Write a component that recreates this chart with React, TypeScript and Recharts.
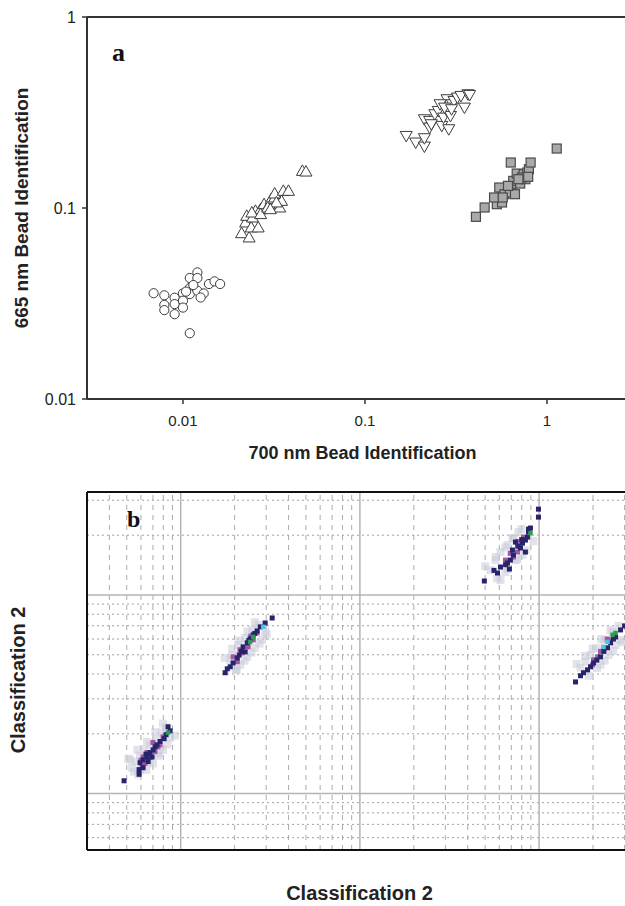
import { ScatterChart, Scatter, XAxis, YAxis, ReferenceLine } from "recharts";

type Pt = [number, number];

// (a) 700 nm vs 665 nm bead identification – four bead sets
const BEAD_CIRCLES: Pt[] = [
  [0.0069, 0.0358], [0.0079, 0.0349], [0.0079, 0.0311], [0.0079, 0.0292], [0.009, 0.0339],
  [0.009, 0.0314], [0.009, 0.0278], [0.01, 0.0357], [0.01, 0.0327], [0.01, 0.0301],
  [0.0109, 0.043], [0.0109, 0.0381], [0.0109, 0.0354], [0.0109, 0.0221], [0.012, 0.046],
  [0.012, 0.043], [0.012, 0.0369], [0.013, 0.0357], [0.0139, 0.04], [0.0149, 0.0413],
  [0.016, 0.04], [0.0104, 0.0365], [0.0114, 0.0395], [0.0125, 0.034],
];
const BEAD_UP: Pt[] = [
  [0.021, 0.0738], [0.0231, 0.0701], [0.0221, 0.084], [0.0237, 0.0791], [0.0259, 0.0791],
  [0.0224, 0.091], [0.0241, 0.0892], [0.025, 0.0966], [0.0267, 0.0986], [0.0279, 0.1047],
  [0.0298, 0.1047], [0.0305, 0.1112], [0.0319, 0.1135], [0.034, 0.1006], [0.0348, 0.109],
  [0.0319, 0.1191], [0.0356, 0.123], [0.038, 0.123], [0.0453, 0.1564], [0.0474, 0.1552],
  [0.0239, 0.0947], [0.0267, 0.0929], [0.0292, 0.1006], [0.0326, 0.1069], [0.0302, 0.0986],
];
const BEAD_DOWN: Pt[] = [
  [0.1685, 0.2384], [0.1899, 0.2202], [0.212, 0.2098], [0.212, 0.2319], [0.212, 0.2915],
  [0.2265, 0.2637], [0.2265, 0.2858], [0.2419, 0.3097], [0.2529, 0.3223], [0.2642, 0.2691],
  [0.2701, 0.2974], [0.2823, 0.3223], [0.2886, 0.2585], [0.2823, 0.371], [0.295, 0.3034],
  [0.3016, 0.3493], [0.3083, 0.3636], [0.3222, 0.3785], [0.3367, 0.3862], [0.3519, 0.3354],
  [0.3677, 0.394], [0.3759, 0.3908], [0.2315, 0.2745], [0.2585, 0.3493], [0.2737, 0.3354],
  [0.2989, 0.3289],
];
const BEAD_SQUARES: Pt[] = [
  [0.407, 0.0899], [0.4543, 0.1006], [0.5302, 0.1047], [0.5662, 0.1069], [0.5119, 0.1135],
  [0.5467, 0.128], [0.5839, 0.1181], [0.638, 0.128], [0.6241, 0.1205], [0.6668, 0.1181],
  [0.6522, 0.1387], [0.6815, 0.1515], [0.7122, 0.1343], [0.7443, 0.1503], [0.7608, 0.1415],
  [0.7778, 0.1533], [0.7952, 0.1596], [0.8128, 0.173], [0.6324, 0.173], [1.131, 0.2048],
  [0.5713, 0.1135], [0.6104, 0.1306], [0.728, 0.1444], [0.7882, 0.1456], [0.6966, 0.1415],
];
const A_TICKS = [0.01, 0.1, 1];

// (b) classification density plot – cells by colour level
const B_HALO: Pt[] = [
  [5.35, 135], [5.63, 145], [5.49, 129], [5.93, 155], [6.25, 166], [6.75, 176], [7.29, 187],
  [7.87, 203], [8.29, 215], [5.78, 125], [7.01, 142], [7.47, 155], [6.41, 132], [5.21, 148],
  [8.73, 191], [7.97, 166], [5.1, 150], [5.94, 131], [5.74, 166], [6.7, 145], [6.48, 182],
  [7.56, 159], [7.22, 204], [8.42, 177], [7.96, 225], [9.29, 196],
  [19.4, 499], [20.9, 561], [22.9, 608], [25.1, 667], [27.1, 707], [21.5, 445], [23.5, 488],
  [26.0, 542], [28.5, 594], [18.9, 471], [20.4, 420], [29.6, 652], [17.6, 482], [19.4, 536],
  [21.3, 590], [23.6, 654], [25.9, 729], [20.5, 420], [22.7, 467], [24.8, 513], [27.5, 569],
  [30.2, 634],
  [571, 1499], [609, 1645], [666, 1783], [710, 1934], [767, 2073], [535, 1335], [649, 1305],
  [738, 1499], [808, 1589], [609, 1190], [500, 1394], [574, 1554], [648, 1737], [722, 1930],
  [796, 2144], [583, 1213], [670, 1353], [756, 1511], [842, 1679], [929, 1866],
  [1937, 499], [2120, 542], [2319, 594], [2571, 652], [2777, 699], [1816, 461], [2203, 445],
  [2441, 499], [2672, 561], [2849, 594], [1703, 430], [1620, 450], [1806, 493], [1991, 536],
  [2222, 600], [2500, 665], [1890, 392], [2106, 429], [2322, 467], [2592, 522], [2916, 578],
];
const B_MAGENTA: Pt[] = [
  [7.97, 193], [7.67, 176], [7.47, 172], [7.19, 163], [6.75, 152], [6.49, 161], [6.17, 153],
  [6.33, 142], [6.09, 137], [7.0, 181], [6.0, 147],
  [26.7, 644], [23.8, 548], [22.0, 511], [20.7, 461], [19.6, 488], [25.4, 594], [24.6, 620],
  [21.4, 530],
  [818, 1956], [787, 1743], [757, 1645], [719, 1552], [649, 1499], [690, 1620], [760, 1860],
  [2120, 488], [2289, 529], [1988, 445], [2014, 471], [2505, 594], [2200, 520], [2400, 600],
];
const B_NAVY: Pt[] = [
  [8.5, 217], [8.73, 207], [8.29, 198], [8.08, 189], [7.67, 183], [7.38, 176], [7.01, 166],
  [6.75, 161], [6.49, 153], [6.92, 153], [6.17, 148], [6.58, 145], [5.93, 143], [6.17, 135],
  [5.86, 132], [5.86, 125], [4.83, 116], [7.2, 172], [6.4, 158],
  [32.4, 766], [29.6, 723], [27.8, 691], [26.7, 659], [25.4, 630], [24.4, 601], [23.5, 574],
  [22.3, 548], [22.9, 517], [21.2, 499], [20.7, 482], [19.6, 455], [18.9, 435], [18.2, 425],
  [17.7, 406], [25.9, 640], [24.0, 590], [21.8, 520],
  [992, 2705], [992, 2466], [895, 2172], [873, 2073], [861, 1956], [839, 1890], [808, 1825],
  [787, 1723], [738, 1846], [710, 1684], [719, 1589], [692, 1499], [666, 1448], [683, 1351],
  [609, 1383], [586, 1290], [495, 1176], [839, 1645], [873, 2146], [760, 1760], [800, 1900],
  [650, 1420], [560, 1330],
  [3000, 699], [2849, 667], [2672, 615], [2505, 574], [2410, 542], [2203, 488], [2014, 455],
  [1937, 435], [1864, 420], [1770, 406], [1597, 365], [1703, 392], [2300, 520], [2600, 600],
  [2100, 470],
];
const B_GREEN: Pt[] = [[8.5, 203], [24.4, 580], [25.4, 615], [895, 2049], [2571, 630], [2672, 644]];
const B_CYAN: Pt[] = [[28.9, 691], [2289, 548], [2410, 580]];

// log grid of panel b
const B_MAJOR_X = [10, 100, 1000];
const B_MINOR_X = [4, 5, 6, 7, 8, 9, 20, 30, 40, 50, 60, 70, 80, 90, 200, 300, 400, 500, 600, 700, 800, 900, 2000, 3000];
const B_MAJOR_Y = [100, 1000];
const B_MINOR_Y = [60, 70, 80, 90, 200, 300, 400, 500, 600, 700, 800, 900, 2000, 3000];

const rows = (pts: Pt[]) => pts.map(([x, y]) => ({ x, y }));

const openCircle = (p: any) => (
  <circle cx={p.cx} cy={p.cy} r={4.6} fill="#fff" stroke="#3c3c3c" strokeWidth={1} />
);
const upTriangle = (p: any) => (
  <path d={`M${p.cx},${p.cy - 6}L${p.cx + 6},${p.cy + 4.5}L${p.cx - 6},${p.cy + 4.5}Z`} fill="#fff" stroke="#3c3c3c" strokeWidth={1} />
);
const downTriangle = (p: any) => (
  <path d={`M${p.cx - 6},${p.cy - 4.5}L${p.cx + 6},${p.cy - 4.5}L${p.cx},${p.cy + 6}Z`} fill="#fff" stroke="#3c3c3c" strokeWidth={1} />
);
const graySquare = (p: any) => (
  <rect x={p.cx - 4.5} y={p.cy - 4.5} width={9} height={9} fill="#a9a9a9" stroke="#4a4a4a" strokeWidth={1.2} />
);
const cell = (size: number, fill: string, opacity = 1) => (p: any) => (
  <rect x={p.cx - size / 2} y={p.cy - size / 2} width={size} height={size} fill={fill} fillOpacity={opacity} />
);

const titleStyle = { fontWeight: 700, fill: "#222" };

// rotated y title of panel b, sitting a little below the plot's middle
const bYTitle = (props: any) => {
  const vb = props.viewBox || {};
  const x = (vb.x || 0) + 18;
  const y = (vb.y || 0) + (vb.height || 0) / 2 + 9;
  return (
    <text x={x} y={y} transform={`rotate(-90, ${x}, ${y})`} textAnchor="middle" dominantBaseline="central"
      style={{ ...titleStyle, fontSize: 20 }}>
      Classification 2
    </text>
  );
};

export default function App() {
  return (
    <div style={{ position: "fixed", left: 0, top: 0, width: 625, height: 906, overflow: "hidden", background: "#fff", fontFamily: "'Liberation Sans', Arial, sans-serif" }}>
      <div style={{ position: "absolute", left: 0, top: 0 }}>
        <ScatterChart width={638} height={470} margin={{ top: 17, right: 0, bottom: 0, left: 0 }}>
          <XAxis
            type="number" dataKey="x" scale="log" domain={[0.00297, 3.162]} allowDataOverflow
            ticks={A_TICKS} tickFormatter={(v) => String(v)} height={71} tickSize={5} tickMargin={11}
            axisLine={{ stroke: "#333", strokeWidth: 2 }} tickLine={{ stroke: "#333", strokeWidth: 1.5 }}
            tick={{ fill: "#222", fontSize: 15 }}
            label={{ value: "700 nm Bead Identification", position: "insideBottom", offset: 11, style: { ...titleStyle, fontSize: 18 } }}
          />
          <YAxis
            type="number" dataKey="y" scale="log" domain={[0.01, 1]} allowDataOverflow
            ticks={A_TICKS} tickFormatter={(v) => String(v)} width={87} tickSize={5} tickMargin={6}
            axisLine={{ stroke: "#333", strokeWidth: 2 }} tickLine={{ stroke: "#333", strokeWidth: 1.5 }}
            tick={{ fill: "#222", fontSize: 16 }}
            label={{ value: "665 nm Bead Identification", angle: -90, position: "insideLeft", offset: 21, style: { ...titleStyle, fontSize: 19, textAnchor: "middle" } }}
          />
          <ReferenceLine y={1} stroke="#333" strokeWidth={2} />
          <Scatter data={rows(BEAD_CIRCLES)} shape={openCircle} isAnimationActive={false} />
          <Scatter data={rows(BEAD_UP)} shape={upTriangle} isAnimationActive={false} />
          <Scatter data={rows(BEAD_DOWN)} shape={downTriangle} isAnimationActive={false} />
          <Scatter data={rows(BEAD_SQUARES)} shape={graySquare} isAnimationActive={false} />
        </ScatterChart>
      </div>
      <div style={{ position: "absolute", left: 112, top: 40, fontFamily: "'Liberation Serif', serif", fontWeight: 700, fontSize: 26, lineHeight: "26px", color: "#111" }}>a</div>

      <div style={{ position: "absolute", left: 0, top: 470 }}>
        <ScatterChart width={632} height={436} margin={{ top: 22, right: 0, bottom: 0, left: 0 }}>
          <XAxis
            type="number" dataKey="x" scale="log" domain={[3, 3300]} allowDataOverflow
            tick={false} tickLine={false} height={56}
            axisLine={{ stroke: "#111", strokeWidth: 2 }}
            label={{ value: "Classification 2", position: "insideBottom", offset: 6, style: { ...titleStyle, fontSize: 20 } }}
          />
          <YAxis
            type="number" dataKey="y" scale="log" domain={[52, 3300]} allowDataOverflow
            tick={false} tickLine={false} width={87}
            axisLine={{ stroke: "#111", strokeWidth: 2 }}
            label={{ content: bYTitle }}
          />
          {B_MINOR_X.map((v) => (
            <ReferenceLine key={`vx${v}`} x={v} stroke="#ababab" strokeDasharray="5 5" />
          ))}
          {B_MINOR_Y.map((v) => (
            <ReferenceLine key={`hy${v}`} y={v} stroke="#a0a0a0" strokeDasharray="2 3" />
          ))}
          {B_MAJOR_X.map((v) => (
            <ReferenceLine key={`mx${v}`} x={v} stroke="#b4b4b4" strokeWidth={1.5} />
          ))}
          {B_MAJOR_Y.map((v) => (
            <ReferenceLine key={`my${v}`} y={v} stroke="#b4b4b4" strokeWidth={1.5} />
          ))}
          <ReferenceLine y={3300} stroke="#111" strokeWidth={2} />
          <Scatter data={rows(B_HALO)} shape={cell(8, "#c9cbd9", 0.55)} isAnimationActive={false} />
          <Scatter data={rows(B_MAGENTA)} shape={cell(5, "#a156a6")} isAnimationActive={false} />
          <Scatter data={rows(B_NAVY)} shape={cell(5, "#27246b")} isAnimationActive={false} />
          <Scatter data={rows(B_GREEN)} shape={cell(4.5, "#2e9b4e")} isAnimationActive={false} />
          <Scatter data={rows(B_CYAN)} shape={cell(4.5, "#4cc6dc")} isAnimationActive={false} />
        </ScatterChart>
      </div>
      <div style={{ position: "absolute", left: 127, top: 507, fontFamily: "'Liberation Serif', serif", fontWeight: 700, fontSize: 24, lineHeight: "24px", color: "#111" }}>b</div>
    </div>
  );
}
